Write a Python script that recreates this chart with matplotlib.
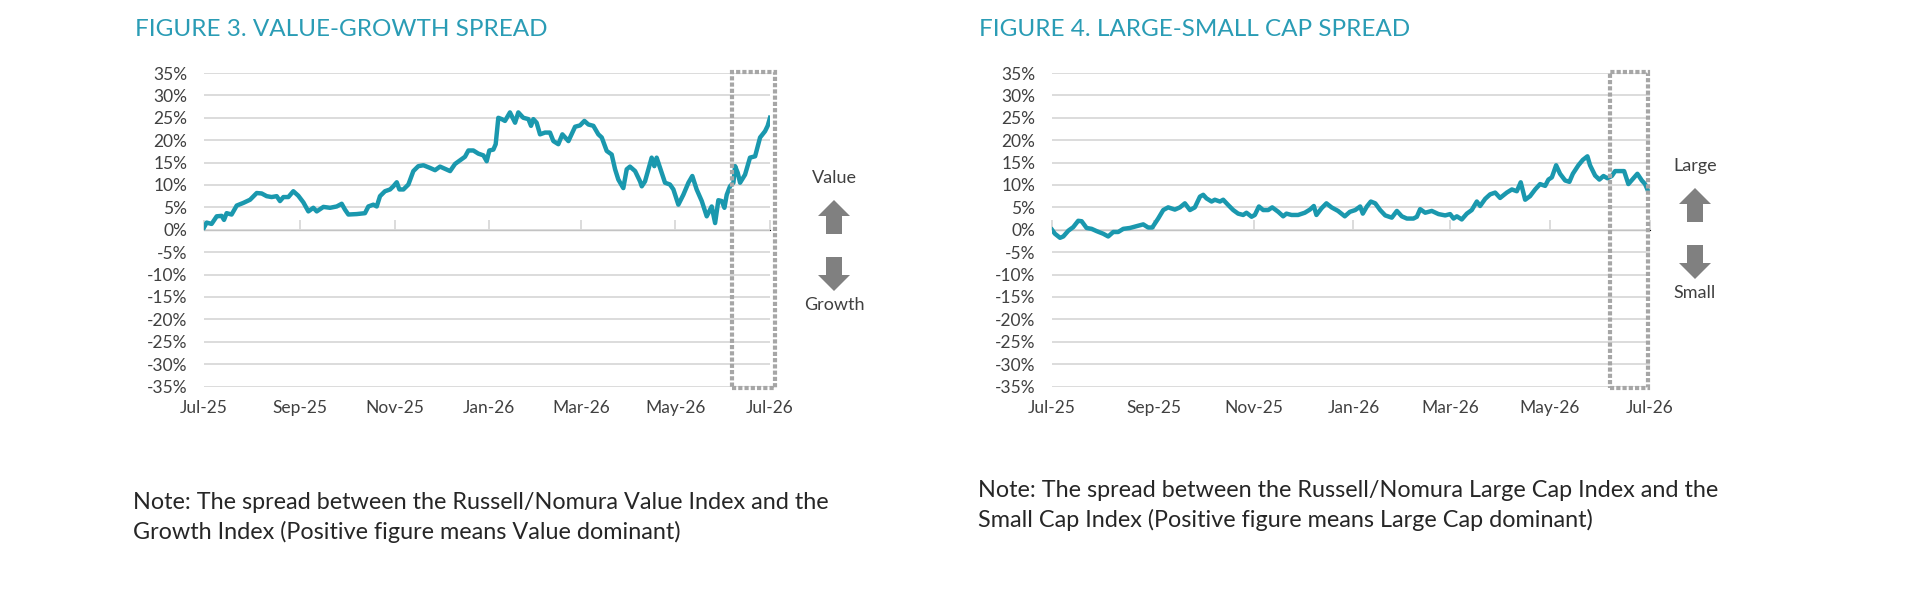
import datetime as dt
import matplotlib
matplotlib.use("Agg")
import matplotlib.pyplot as plt
import matplotlib.dates as mdates
from matplotlib.patches import Rectangle, FancyArrow
from matplotlib.ticker import MultipleLocator, FuncFormatter, NullFormatter
import numpy as np

# days since 1 Jul 2025, spread in %
vg_days = [0, 1.7, 4.9, 8.2, 11.4, 12.9, 14.6, 17.8, 21.1, 25.4, 29.7, 34.0, 37.2, 40.4,
           43.6, 46.9, 49.0, 51.2, 54.4, 57.6, 60.8, 64.1, 67.3, 70.5, 72.7, 77.0, 81.3,
           85.6, 88.8, 90.9, 93.1, 98.5, 103.8, 106.0, 109.2, 111.4, 113.5, 116.7, 120.0,
           122.1, 124.3, 126.0, 128.6, 131.8, 135.0, 138.2, 141.5, 145.8, 149.0, 152.2,
           155.4, 158.7, 161.9, 165.1, 168.3, 170.5, 173.7, 176.9, 180.2, 182.3, 184.0,
           186.6, 188.1, 189.8, 192.0, 194.1, 197.3, 200.6, 202.7, 205.9, 209.2, 210.9,
           212.4, 214.5, 216.7, 219.9, 223.1, 225.3, 228.5, 231.1, 235.0, 239.3, 242.5,
           245.3, 247.9, 251.1, 254.3, 256.5, 259.7, 262.9, 265.1, 267.2, 270.4, 272.6,
           274.7, 278.0, 281.2, 282.3, 284.4, 286.6, 288.7, 290.4, 291.9, 294.1, 297.3,
           300.5, 302.7, 305.9, 309.1, 312.4, 314.9, 317.7, 321.0, 324.2, 327.4, 329.6,
           331.7, 333.9, 335.6, 337.1, 339.2, 341.4, 342.5, 344.2, 345.7, 348.9, 352.1,
           355.4, 358.6, 361.8, 363.5, 365.0]
vg_vals = [0.5, 1.6, 1.3, 3.0, 3.1, 2.2, 3.7, 3.4, 5.4, 6.0, 6.7, 8.2, 8.1, 7.5,
           7.3, 7.5, 6.4, 7.3, 7.3, 8.6, 7.6, 6.1, 4.1, 4.9, 4.1, 5.1, 4.9,
           5.2, 5.8, 4.5, 3.4, 3.5, 3.7, 5.2, 5.6, 5.2, 7.5, 8.6, 9.0,
           9.7, 10.6, 9.0, 9.0, 10.1, 13.1, 14.2, 14.4, 13.8, 13.3, 14.1,
           13.6, 13.1, 14.7, 15.5, 16.3, 17.7, 17.7, 17.0, 16.6, 15.3, 17.7,
           17.9, 19.1, 25.0, 24.7, 24.3, 26.2, 23.9, 26.2, 25.0, 24.7, 23.2,
           24.7, 23.9, 21.3, 21.7, 21.7, 19.8, 19.1, 21.3, 19.8, 23.0, 23.3,
           24.3, 23.5, 23.2, 21.3, 20.6, 17.6, 16.8, 13.5, 11.2, 9.3, 13.5,
           14.1, 13.1, 10.8, 9.7, 10.8, 13.5, 16.1, 14.2, 16.1, 13.8, 10.5,
           10.1, 9.0, 5.6, 7.8, 10.5, 12.0, 9.0, 6.4, 3.0, 5.2, 1.5,
           6.6, 6.4, 4.9, 7.8, 9.7, 10.5, 14.2, 12.7, 10.5, 12.3, 16.1,
           16.4, 20.6, 22.0, 23.2, 25.0]

ls_days = [0, 1.8, 4.9, 6.9, 10.0, 13.0, 16.0, 18.1, 21.1, 24.2, 27.2, 31.3, 34.3, 37.4,
           40.4, 43.5, 47.6, 51.6, 55.7, 58.7, 61.2, 64.8, 67.9, 70.9, 75.0, 78.1, 81.1,
           84.2, 87.2, 90.3, 92.3, 94.3, 97.4, 99.4, 102.5, 104.5, 107.6, 110.6, 113.6,
           116.7, 118.7, 121.8, 123.8, 126.3, 128.9, 132.0, 134.4, 138.1, 141.1, 143.1,
           146.2, 150.2, 154.3, 157.4, 159.8, 161.4, 164.5, 167.5, 170.6, 174.6, 178.7,
           181.8, 185.1, 188.1, 189.7, 192.2, 194.6, 197.3, 200.3, 203.4, 207.4, 210.5,
           213.5, 216.6, 220.6, 222.7, 224.7, 227.8, 231.8, 235.9, 240.0, 243.0, 245.1,
           247.1, 250.1, 253.2, 256.2, 259.3, 261.3, 264.4, 267.4, 270.5, 273.5, 277.6,
           280.7, 283.7, 286.1, 288.8, 291.8, 294.9, 297.9, 301.0, 303.0, 305.1, 307.7,
           310.1, 313.2, 315.8, 317.9, 321.3, 324.0, 326.8, 328.4, 331.5, 334.1, 336.6,
           339.0, 341.7, 343.7, 346.8, 349.2, 351.8, 354.9, 357.3, 360.0, 362.0, 363.4]
ls_vals = [0.0, -0.9, -1.8, -1.5, -0.2, 0.6, 2.0, 1.9, 0.4, 0.2, -0.3, -0.9, -1.5, -0.5,
           -0.5, 0.2, 0.4, 0.8, 1.2, 0.5, 0.5, 2.5, 4.4, 5.0, 4.5, 5.0, 5.9,
           4.4, 5.0, 7.4, 7.8, 7.0, 6.3, 6.7, 6.3, 6.7, 5.5, 4.4, 3.6,
           3.3, 3.8, 2.9, 3.3, 5.2, 4.4, 4.4, 5.0, 4.0, 3.0, 3.6,
           3.3, 3.3, 3.8, 4.5, 5.3, 3.3, 4.8, 5.9, 5.0, 4.2, 3.0,
           4.0, 4.4, 5.2, 3.6, 5.2, 6.3, 5.9, 4.4, 3.2, 2.7, 4.2,
           3.0, 2.5, 2.5, 2.9, 4.6, 3.8, 4.2, 3.5, 3.2, 3.5, 2.5,
           3.0, 2.3, 3.6, 4.4, 6.3, 5.3, 6.9, 7.9, 8.3, 7.1, 8.3,
           9.0, 8.6, 10.6, 6.7, 7.5, 9.0, 10.2, 9.8, 11.2, 11.7, 14.4,
           12.5, 11.0, 10.7, 12.5, 14.4, 15.6, 16.4, 14.4, 12.1, 11.2, 12.0,
           11.5, 12.0, 13.1, 13.1, 13.1, 10.2, 11.5, 12.5, 11.0, 10.2, 9.0]

titles = ["FIGURE 3. VALUE-GROWTH SPREAD", "FIGURE 4. LARGE-SMALL CAP SPREAD"]
up_labels = ["Value", "Large"]
down_labels = ["Growth", "Small"]
notes = ["Note: The spread between the Russell/Nomura Value Index and the\n"
         "Growth Index (Positive figure means Value dominant)",
         "Note: The spread between the Russell/Nomura Large Cap Index and the\n"
         "Small Cap Index (Positive figure means Large Cap dominant)"]

W, H = 1920, 590
LINE = "#1a98ae"
TEAL = "#2a9cb5"
GRID = "#d9d9d9"
TXT = "#404040"
ARROW = "#808080"
BOX = "#a6a6a6"

plt.rcParams["font.family"] = ["Lato", "DejaVu Sans"]

start = mdates.date2num(dt.datetime(2025, 7, 1))
end = mdates.date2num(dt.datetime(2026, 7, 1))

fig = plt.figure(figsize=(W / 100, H / 100), dpi=100)
fig.patch.set_facecolor("white")


def fx(px):
    return px / W


def fy(py):
    return 1 - py / H


def draw_panel(rect, days, vals, title, title_x, box, up, down, arrow_x, arr_y, note, note_xy):
    ax = fig.add_axes(rect)
    x = start + np.array(days)
    ax.set_xlim(start, end)
    ax.set_ylim(-35, 35)
    ax.yaxis.set_major_locator(MultipleLocator(5))
    ax.yaxis.set_major_formatter(FuncFormatter(lambda v, p: f"{v:.0f}%"))
    ax.grid(axis="y", color=GRID, lw=1.3)
    ax.set_axisbelow(True)
    for s in ax.spines.values():
        s.set_visible(False)
    ax.xaxis.set_major_locator(mdates.MonthLocator(bymonth=[1, 3, 5, 7, 9, 11]))
    ax.xaxis.set_major_formatter(mdates.DateFormatter("%b-%y"))
    ax.tick_params(axis="both", length=0, labelsize=12.5, labelcolor=TXT)
    ax.tick_params(axis="y", pad=12)
    ax.tick_params(axis="x", pad=10)

    # category axis crossing at zero, with its tick marks
    sec = ax.secondary_xaxis(0.5)
    sec.xaxis.set_major_locator(mdates.MonthLocator(bymonth=[1, 3, 5, 7, 9, 11]))
    sec.xaxis.set_major_formatter(NullFormatter())
    sec.tick_params(axis="x", length=7, width=1.3, color=GRID)
    sec.spines["bottom"].set_color(GRID)
    sec.spines["bottom"].set_linewidth(1.3)

    ax.plot(x, vals, color=LINE, lw=3.2, solid_joinstyle="round", zorder=3)

    b0, b1 = start + box[0], start + box[1]
    ax.add_patch(Rectangle((b0, -35.3), b1 - b0, 70.6, fill=False, ec=BOX, lw=3,
                           ls=(0, (1, 0.5)), clip_on=False, zorder=4))

    fig.text(fx(title_x), fy(30), title, color=TEAL, fontsize=17.5,
             va="center", ha="left")

    fig.text(fx(arrow_x), fy(arr_y[0]), up, color=TXT, fontsize=13, ha="center", va="center")
    fig.text(fx(arrow_x), fy(arr_y[3]), down, color=TXT, fontsize=13, ha="center", va="center")
    # block arrows (pixel sizes converted to figure fractions)
    fig.patches.append(FancyArrow(fx(arrow_x), fy(arr_y[1] + 34), 0, 34 / H,
                                  width=fx(16), head_width=fx(32), head_length=16 / H,
                                  length_includes_head=True, color=ARROW, lw=0,
                                  transform=fig.transFigure, figure=fig))
    fig.patches.append(FancyArrow(fx(arrow_x), fy(arr_y[2]), 0, -34 / H,
                                  width=fx(16), head_width=fx(32), head_length=16 / H,
                                  length_includes_head=True, color=ARROW, lw=0,
                                  transform=fig.transFigure, figure=fig))

    fig.text(fx(note_xy[0]), fy(note_xy[1]), note, color="#262626", fontsize=16.8,
             ha="left", va="top", linespacing=1.42)
    return ax


top, bottom = 73, 386.5
draw_panel([fx(204), fy(bottom), fx(770 - 204), (bottom - top) / H],
           vg_days, vg_vals, titles[0], 135, (340.3, 368.2),
           up_labels[0], down_labels[0], 834, (178, 200, 257, 305),
           notes[0], (133, 492))
draw_panel([fx(1052), fy(bottom), fx(1650 - 1052), (bottom - top) / H],
           ls_days, ls_vals, titles[1], 979, (340.6, 364.0),
           up_labels[1], down_labels[1], 1695, (166, 188, 245, 293),
           notes[1], (978, 480))

fig.savefig("out.png", dpi=100, facecolor="white")
